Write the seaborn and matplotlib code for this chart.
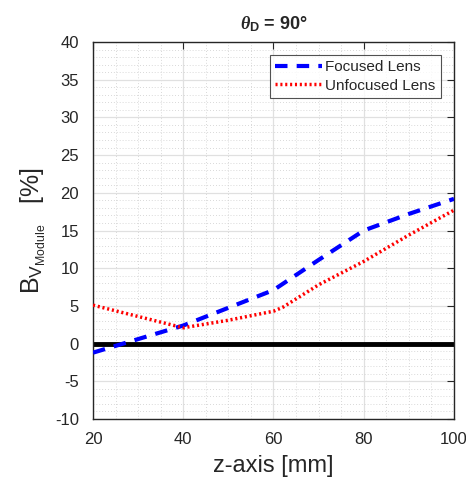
import numpy as np
import pandas as pd
import matplotlib
matplotlib.use("Agg")
import matplotlib.pyplot as plt
import seaborn as sns
from matplotlib.ticker import MultipleLocator

z_focused = [20, 40, 60, 70, 80, 90, 100]
b_focused = [-1.2, 2.4, 7.1, 11.1, 15.0, 17.2, 19.2]
z_unfocused = [20, 40, 50, 60, 62, 70, 80, 90, 100]
b_unfocused = [5.1, 2.1, 3.1, 4.3, 4.8, 7.8, 10.9, 14.4, 17.7]
labels = ["Focused Lens", "Unfocused Lens"]

sns.set_theme(style="white")
plt.rcParams['font.family'] = ['Liberation Sans', 'DejaVu Sans']
plt.rcParams['axes.unicode_minus'] = False
plt.rcParams['mathtext.fontset'] = 'custom'
plt.rcParams['mathtext.rm'] = 'Liberation Sans'
plt.rcParams['mathtext.bf'] = 'Liberation Sans:bold'
plt.rcParams['mathtext.it'] = 'Liberation Serif:italic:bold'

df_f = pd.DataFrame({"z": z_focused, "b": b_focused})
df_u = pd.DataFrame({"z": z_unfocused, "b": b_unfocused})

fig = plt.figure(figsize=(4.66, 4.78), dpi=100)
ax = fig.add_axes([0.1996, 0.1234, 0.7746, 0.7887])

ax.axhline(0, color='black', lw=3.5, zorder=2)
sns.lineplot(data=df_f, x="z", y="b", ax=ax, color='#0000ff', lw=3,
             linestyle=(0, (3, 2.2)), label=labels[0], zorder=3)
sns.lineplot(data=df_u, x="z", y="b", ax=ax, color='#ff0000', lw=2.5,
             linestyle=(0, (0.6, 0.8)), label=labels[1], zorder=3)

ax.set_xlim(20, 100)
ax.set_ylim(-10, 40)
ax.xaxis.set_major_locator(MultipleLocator(20))
ax.xaxis.set_minor_locator(MultipleLocator(5))
ax.yaxis.set_major_locator(MultipleLocator(5))
ax.yaxis.set_minor_locator(MultipleLocator(1))
ax.grid(which='major', color='#e0e0e0', lw=0.9, linestyle='-')
ax.grid(which='minor', color='#cccccc', lw=0.6, linestyle=(0, (1, 2.5)))
ax.set_axisbelow(True)

ax.tick_params(which='major', direction='in', length=5, width=0.8,
               top=True, right=True, labelsize=12, colors='#262626')
ax.tick_params(axis='x', which='major', pad=9)
ax.tick_params(axis='y', which='major', pad=10)
ax.tick_params(which='minor', length=0)
for s in ax.spines.values():
    s.set_color('#262626')
    s.set_linewidth(1.0)

ax.set_xlabel('z-axis [mm]', fontsize=17, color='#262626', labelpad=6)
ax.set_ylabel(r'B$_{\mathrm{V}_{\mathrm{Module}}}$   [%]', fontsize=18, color='#262626', labelpad=5)
ax.set_title(r'$\it{\theta}_{\mathbf{D}}$ = 90°', fontsize=13, fontweight='bold', pad=9)

leg = ax.legend(loc='upper right', bbox_to_anchor=(0.964, 0.966), borderaxespad=0,
                fontsize=11, frameon=True, fancybox=False, edgecolor='#262626',
                handlelength=3.1, borderpad=0.35, labelspacing=0.3, handletextpad=0.2)
leg.get_frame().set_linewidth(0.8)

fig.savefig('out.png', dpi=100)
